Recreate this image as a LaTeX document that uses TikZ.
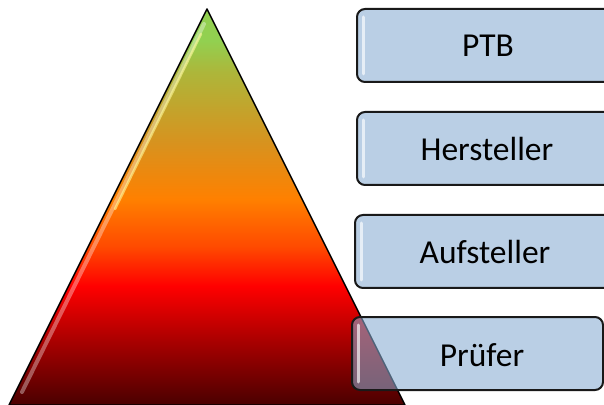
\documentclass[tikz,border=0pt]{standalone}
\usepackage{fontspec}
\setmainfont{Carlito}
\definecolor{pdr}{HTML}{4A0000}
\definecolor{pr1}{HTML}{A80000}
\definecolor{pred}{HTML}{FF0000}
\definecolor{pro}{HTML}{FF4A00}
\definecolor{por}{HTML}{FF8000}
\definecolor{pol}{HTML}{D8921E}
\definecolor{pyg}{HTML}{ADB63A}
\definecolor{pgr}{HTML}{92D050}
\definecolor{boxfill}{HTML}{88ACD2}
\pgfdeclareverticalshading{pyr}{100bp}{color(0bp)=(pdr); color(25bp)=(pdr); color(33bp)=(pr1); color(40bp)=(pred); color(45bp)=(pro); color(51bp)=(por); color(58bp)=(pol); color(67bp)=(pyg); color(71bp)=(pgr); color(100bp)=(pgr)}
\tikzset{
  rolebox/.style={draw=black!90, line width=2pt, rounded corners=8pt, fill=boxfill, fill opacity=0.58},
  roletext/.style={font=\fontsize{33.5}{38}\selectfont, text=black, inner sep=0pt, anchor=center},
  gloss/.style={draw=white, line cap=round, draw opacity=0.65, line width=3pt},
}
\begin{document}
\begin{tikzpicture}[x=1pt,y=1pt]
\useasboundingbox (0,0) rectangle (604,404);
% pyramid
\coordinate (apex) at (207,395);
\coordinate (bl) at (9,-1);
\coordinate (br) at (405,-1);
\path[shading=pyr] (apex) -- (br) -- (bl) -- cycle;
\draw[line width=1.5pt, line join=round] (apex) -- (br) -- (bl) -- cycle;
% gloss on pyramid left edge
\coordinate (g1) at (204,380);
\coordinate (g2) at (22,12);
\draw[draw=white, line cap=round, draw opacity=0.35, line width=4pt] (g1) -- (g2);
\draw[draw=yellow!40!white, line cap=round, draw opacity=0.6, line width=2.5pt] (201,370) -- (115,195);
% boxes
\path[rolebox] (357,322) rectangle (620,395);
\path[rolebox] (357,219) rectangle (620,292);
\path[rolebox] (355,116) rectangle (620,189);
\path[rolebox] (352,14) rectangle (603,87);
% gloss on boxes
\draw[gloss] (363,330) -- (363,387);
\draw[gloss] (363,227) -- (363,284);
\draw[gloss] (361,124) -- (361,181);
\draw[gloss] (358,22) -- (358,79);
% texts
\node[roletext] (ptb) at (488,358) {PTB};
\node[roletext] (her) at (487,255) {Hersteller};
\node[roletext] (auf) at (485,152) {Aufsteller};
\node[roletext] (pru) at (482,49) {Prüfer};
\end{tikzpicture}
\end{document}
